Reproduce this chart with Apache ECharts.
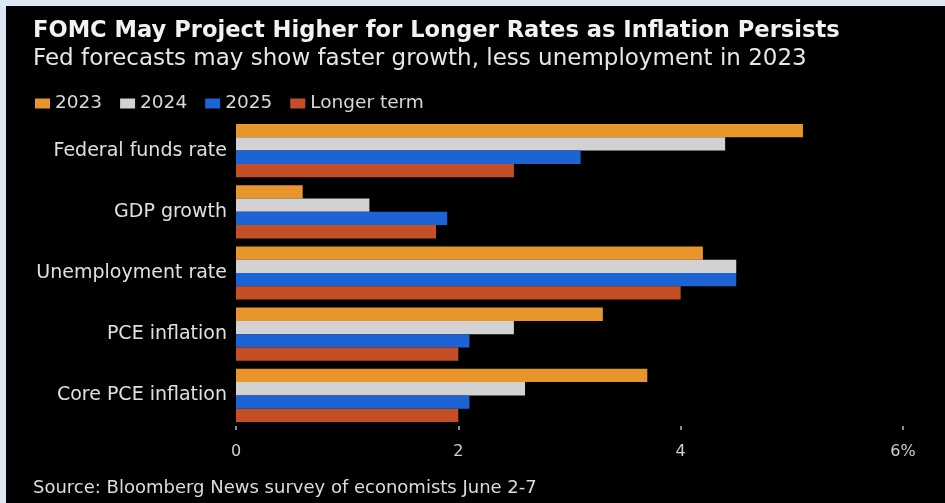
<!DOCTYPE html>
<html>
<head>
<meta charset="utf-8">
<script src="https://cdn.jsdelivr.net/npm/echarts@6/dist/echarts.min.js"></script>
<style>
  html, body { margin: 0; padding: 0; background: #dde8f5; }
  #chart { position: absolute; left: 6px; top: 6px; width: 939px; height: 497px; }
</style>
</head>
<body>
<div id="chart"></div>
<script>
// Valores (%)
const categories = ['Federal funds rate', 'GDP growth', 'Unemployment rate', 'PCE inflation', 'Core PCE inflation'];
const seriesNames = ['2023', '2024', '2025', 'Longer term'];
const values2023 = [5.1, 0.6, 4.2, 3.3, 3.7];
const values2024 = [4.4, 1.2, 4.5, 2.5, 2.6];
const values2025 = [3.1, 1.9, 4.5, 2.1, 2.1];
const valuesLonger = [2.5, 1.8, 4.0, 2.0, 2.0];
const xTicks = [0, 2, 4, 6];

const colors = ['#e8952c', '#d2d2d2', '#1c63d4', '#c44f26'];
const allValues = [values2023, values2024, values2025, valuesLonger];
const font = 'DejaVu Sans';

const chart = echarts.init(document.getElementById('chart'));

const option = {
  backgroundColor: '#000',
  animation: false,
  title: {
    text: 'FOMC May Project Higher for Longer Rates as Inflation Persists',
    subtext: 'Fed forecasts may show faster growth, less unemployment in 2023',
    left: 22,
    top: 9,
    itemGap: 5,
    textStyle: {
      color: '#f2f2f2',
      fontFamily: font,
      fontWeight: 'bold',
      fontSize: 22.6
    },
    subtextStyle: {
      color: '#e6e6e6',
      fontFamily: font,
      fontSize: 23
    }
  },
  legend: {
    data: seriesNames,
    left: 24,
    top: 83,
    icon: 'rect',
    itemWidth: 15,
    itemHeight: 10,
    itemGap: 18,
    textStyle: {
      color: '#d8d8d8',
      fontFamily: font,
      fontSize: 18.5
    }
  },
  grid: {
    left: 230,
    right: 42,
    top: 114,
    bottom: 77
  },
  xAxis: {
    type: 'value',
    min: 0,
    max: 6,
    interval: 2,
    splitLine: { show: false },
    axisLine: { show: false },
    axisTick: { show: true, length: 4, lineStyle: { color: '#bbb', width: 1.5 } },
    axisLabel: {
      color: '#cfcfcf',
      fontFamily: font,
      fontSize: 16,
      margin: 18,
      formatter: v => (v === xTicks[xTicks.length - 1] ? v + '%' : String(v))
    }
  },
  yAxis: {
    type: 'category',
    data: categories,
    inverse: true,
    axisLine: { show: false },
    axisTick: { show: false },
    axisLabel: {
      color: '#e0e0e0',
      fontFamily: font,
      fontSize: 19,
      margin: 9
    }
  },
  series: seriesNames.map((name, i) => ({
    name: name,
    type: 'bar',
    data: allValues[i],
    barGap: '0%',
    barCategoryGap: '13%',
    itemStyle: { color: colors[i] }
  })),
  graphic: [
    {
      type: 'text',
      left: 27,
      top: 473,
      style: {
        text: 'Source: Bloomberg News survey of economists June 2-7',
        fill: '#dcdcdc',
        font: '18px "DejaVu Sans"'
      }
    }
  ]
};

chart.setOption(option);
</script>
</body>
</html>
